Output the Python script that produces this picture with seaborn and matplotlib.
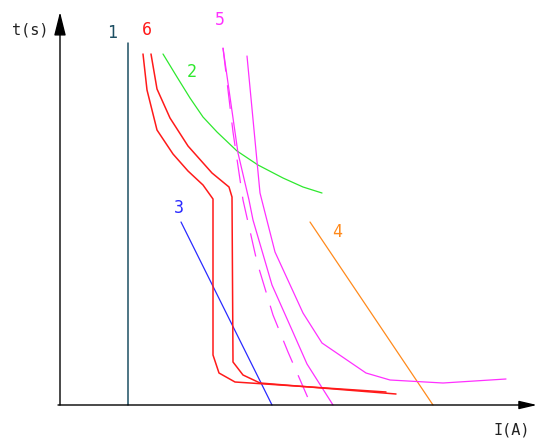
import matplotlib
matplotlib.use('Agg')
import matplotlib.pyplot as plt
import seaborn as sns
import pandas as pd

# curves (I, t in drawing units, origin at axes corner)
line1_I = [68, 68]
line1_t = [0, 362]

line2_I = [103, 117, 130, 143, 157, 177, 198, 223, 243, 262]
line2_t = [351, 328, 307, 288, 273, 254, 240, 227, 218, 212]

line3_I = [121, 212]
line3_t = [183, 0]

line4_I = [250, 373]
line4_t = [183, 0]

line5a_I = [163, 173, 183, 197, 213, 228, 251]
line5a_t = [357, 273, 205, 143, 90, 53, 0]
line5b_I = [163, 178, 189, 193, 212, 232, 247, 273]
line5b_t = [357, 252, 205, 185, 120, 75, 41, 0]
line5c_I = [187, 200, 215, 243, 262, 306, 330, 383, 446]
line5c_t = [349, 212, 153, 92, 62, 32, 25, 22, 26]

line6a_I = [83, 87, 97, 113, 128, 143, 153, 153, 159, 175, 326]
line6a_t = [351, 315, 275, 251, 234, 220, 206, 50, 32, 23, 13]
line6b_I = [91, 97, 110, 128, 152, 169, 172, 173, 183, 200, 336]
line6b_t = [351, 316, 287, 259, 232, 218, 208, 43, 30, 22, 11]

labels = ['1', '2', '3', '4', '5', '6']
label_I = [52, 132, 119, 277, 160, 87]
label_t = [372, 333, 197, 173, 385, 375]

c1 = '#1d4f63'
c2 = '#2ee82e'
c3 = '#2a2aff'
c4 = '#ff8a1c'
c5 = '#ff30ff'
c6 = '#ff1a1a'
label_colors = [c1, c2, c3, c4, c5, c6]

sns.set_style('white')
plt.rcParams['font.family'] = ['DejaVu Sans Mono']

fig = plt.figure(figsize=(5.37, 4.40), dpi=100)
ax = fig.add_axes([0, 0, 1, 1])

def draw(I, t, color, **kw):
    df = pd.DataFrame({'I': I, 't': t})
    sns.lineplot(data=df, x='I', y='t', sort=False, estimator=None,
                 color=color, lw=kw.pop('lw', 0.9), ax=ax, **kw)

draw(line1_I, line1_t, c1, lw=1.1)
draw(line2_I, line2_t, c2)
draw(line3_I, line3_t, c3)
draw(line4_I, line4_t, c4)
draw(line5a_I, line5a_t, c5, dashes=(19, 11))
draw(line5b_I, line5b_t, c5)
draw(line5c_I, line5c_t, c5)
draw(line6a_I, line6a_t, c6, lw=1.1)
draw(line6b_I, line6b_t, c6, lw=1.1)

for lab, x, y, col in zip(labels, label_I, label_t, label_colors):
    ax.text(x, y, lab, color=col, fontsize=12, ha='center', va='center')

# axes with arrow heads
ax.annotate('', xy=(477, 0), xytext=(-2, 0),
            arrowprops=dict(arrowstyle='-|>,head_length=0.6,head_width=0.14',
                            color='black', lw=1.0,
                            mutation_scale=18, shrinkA=0, shrinkB=0))
ax.annotate('', xy=(0, 393), xytext=(0, 0),
            arrowprops=dict(arrowstyle='-|>,head_length=0.8,head_width=0.2',
                            color='black', lw=1.0,
                            mutation_scale=18, shrinkA=0, shrinkB=0))
ax.text(-30, 375, 't(s)', fontsize=11, color='#222222', ha='center', va='center')
ax.text(452, -25, 'I(A)', fontsize=11, color='#222222', ha='center', va='center')

ax.set_xlim(-60, 477)
ax.set_ylim(-35, 405)
ax.set_axis_off()

fig.savefig('out.png', dpi=100)
